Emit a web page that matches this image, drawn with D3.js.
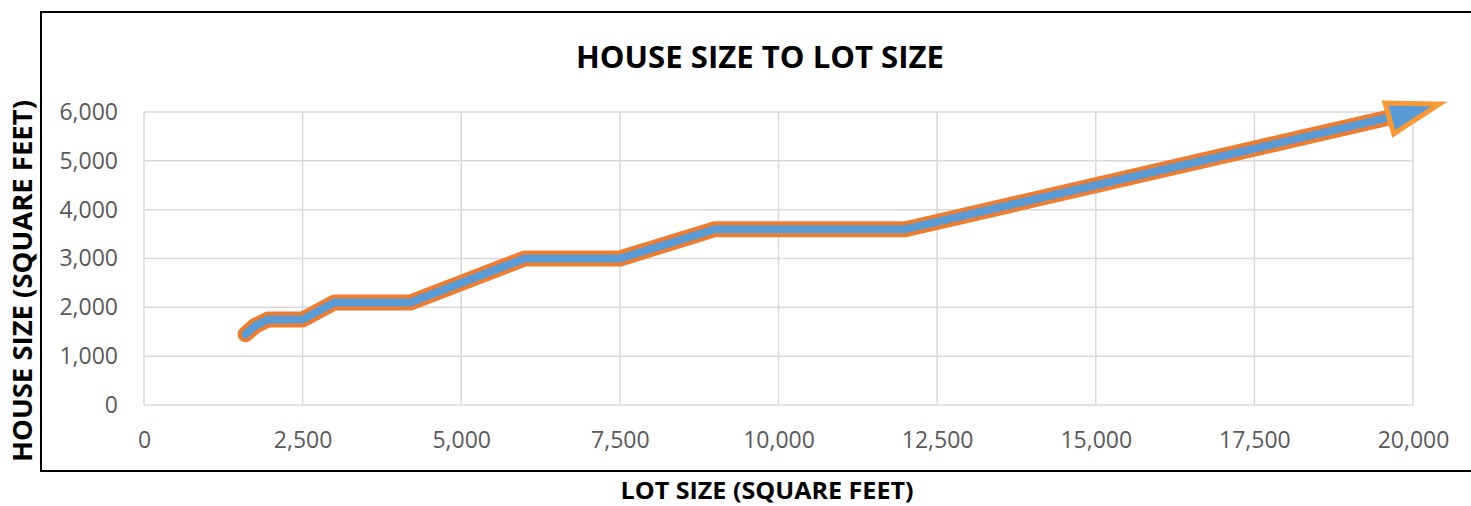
<!DOCTYPE html>
<html>
<head>
<meta charset="utf-8">
<script src="https://cdn.jsdelivr.net/npm/d3@7"></script>
<style>
  body { margin: 0; background: #fff; }
  text { font-family: "Open Sans", "Noto Sans", sans-serif; }
</style>
</head>
<body>
<div id="chart"></div>
<script>
// lot size (sq ft) -> house size (sq ft)
var lotSize   = [1600, 1750, 1950, 2500, 3000, 4200, 6000, 7500, 9000, 12000, 19900];
var houseSize = [1450, 1620, 1750, 1750, 2100, 2100, 3000, 3000, 3600, 3600, 5970];
var xTicks = [0, 2500, 5000, 7500, 10000, 12500, 15000, 17500, 20000];
var yTicks = [0, 1000, 2000, 3000, 4000, 5000, 6000];

var W = 1471, H = 506;
var svg = d3.select("#chart").append("svg")
    .attr("width", W).attr("height", H);

// outer frame (right side runs off the picture)
svg.append("rect").attr("x", 41).attr("y", 12).attr("width", 1460).attr("height", 459)
    .attr("fill", "none").attr("stroke", "#000").attr("stroke-width", 2);

var x = d3.scaleLinear().domain([0, 20000]).range([144, 1413]);
var y = d3.scaleLinear().domain([0, 6000]).range([405, 112]);
var fmt = d3.format(",");

// grid
svg.append("g").selectAll("line").data(xTicks).enter().append("line")
    .attr("x1", d => x(d)).attr("x2", d => x(d))
    .attr("y1", y(0)).attr("y2", y(6000))
    .attr("stroke", "#d9d9d9").attr("stroke-width", 1.5);
svg.append("g").selectAll("line").data(yTicks).enter().append("line")
    .attr("x1", x(0)).attr("x2", x(20000))
    .attr("y1", d => y(d)).attr("y2", d => y(d))
    .attr("stroke", "#d9d9d9").attr("stroke-width", 1.5);

// axes (labels only)
var xAxis = svg.append("g").attr("transform", "translate(0," + y(0) + ")")
    .call(d3.axisBottom(x).tickValues(xTicks).tickFormat(fmt).tickSize(0).tickPadding(27));
var yAxis = svg.append("g").attr("transform", "translate(" + (x(0) - 26) + ",0)")
    .call(d3.axisLeft(y).tickValues(yTicks).tickFormat(fmt).tickSize(0).tickPadding(0));
[xAxis, yAxis].forEach(function (g) {
  g.select(".domain").remove();
  g.selectAll("text").attr("fill", "#595959").style("font-size", "23px")
    .style("font-family", "'Open Sans', sans-serif");
});

// line: orange outline, blue core
var pts = lotSize.map((d, i) => [d, houseSize[i]]);
var line = d3.line().x(d => x(d[0])).y(d => y(d[1])).curve(d3.curveLinear);
svg.append("path").attr("d", line(pts)).attr("fill", "none")
    .attr("stroke", "#ED7D31").attr("stroke-width", 16)
    .attr("stroke-linejoin", "round").attr("stroke-linecap", "round");
svg.append("path").attr("d", line(pts)).attr("fill", "none")
    .attr("stroke", "#5B9BD5").attr("stroke-width", 8)
    .attr("stroke-linejoin", "round").attr("stroke-linecap", "round");

// arrow head at the last point
var n = pts.length;
var ex = x(pts[n - 1][0]), ey = y(pts[n - 1][1]);
var ang = Math.atan2(y(pts[n - 1][1]) - y(pts[n - 2][1]), x(pts[n - 1][0]) - x(pts[n - 2][0])) * 180 / Math.PI;
svg.append("path")
    .attr("d", "M34,0 L-18,-16 L-18,16 Z")
    .attr("transform", "translate(" + ex + "," + ey + ") rotate(" + (ang - 3) + ")")
    .attr("fill", "#5B9BD5").attr("stroke", "#F79A35").attr("stroke-width", 5)
    .attr("stroke-linejoin", "miter");

// titles
svg.append("text").attr("x", 760).attr("y", 68).attr("text-anchor", "middle")
    .attr("textLength", 368).attr("lengthAdjust", "spacingAndGlyphs")
    .style("font-size", "31px").style("font-weight", "bold").attr("fill", "#000")
    .text("HOUSE SIZE TO LOT SIZE");
svg.append("text").attr("x", 767).attr("y", 499).attr("text-anchor", "middle")
    .attr("textLength", 293).attr("lengthAdjust", "spacingAndGlyphs")
    .style("font-size", "24px").style("font-weight", "bold").attr("fill", "#000")
    .text("LOT SIZE (SQUARE FEET)");
svg.append("text").attr("transform", "translate(32,281) rotate(-90)")
    .attr("text-anchor", "middle")
    .attr("textLength", 362).attr("lengthAdjust", "spacingAndGlyphs")
    .style("font-size", "27px").style("font-weight", "bold").attr("fill", "#000")
    .text("HOUSE SIZE (SQUARE FEET)");
</script>
</body>
</html>
